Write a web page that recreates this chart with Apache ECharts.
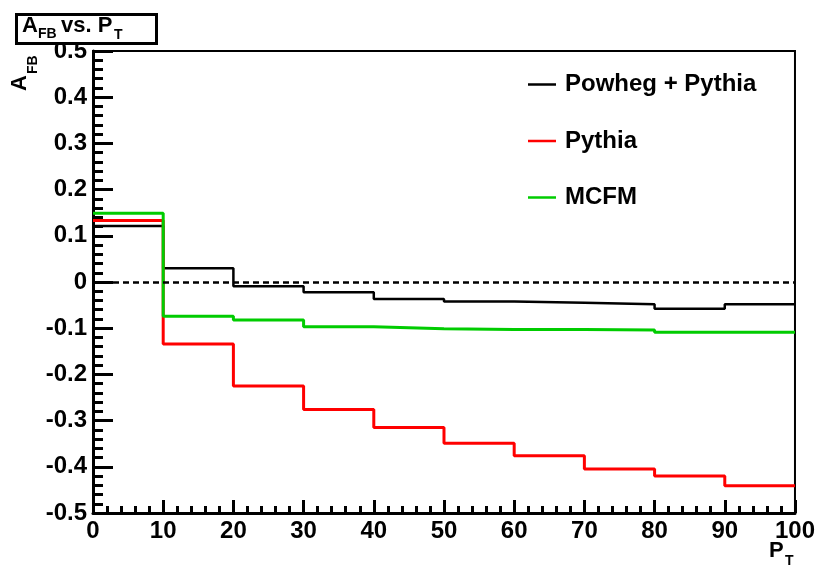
<!DOCTYPE html>
<html>
<head>
<meta charset="utf-8">
<script src="https://cdn.jsdelivr.net/npm/echarts@6/dist/echarts.min.js"></script>
<style>
  html, body { margin: 0; padding: 0; background: #fff; }
  #chart { width: 818px; height: 567px; }
</style>
</head>
<body>
<div id="chart"></div>
<script>
// Forward-backward asymmetry versus transverse momentum, 10-unit bins
const binEdges = [0, 10, 20, 30, 40, 50, 60, 70, 80, 90, 100];
const seriesNames = ['Powheg + Pythia', 'Pythia', 'MCFM'];
const powhegPythia = [0.121, 0.030, -0.009, -0.022, -0.037, -0.042, -0.045, -0.048, -0.058, -0.048];
const pythia = [0.133, -0.134, -0.225, -0.276, -0.315, -0.349, -0.376, -0.405, -0.420, -0.441];
const mcfm = [0.149, -0.074, -0.082, -0.097, -0.101, -0.103, -0.103, -0.104, -0.109, -0.109];
const xTickLabels = ['0', '10', '20', '30', '40', '50', '60', '70', '80', '90', '100'];
const yTickLabels = ['-0.5', '-0.4', '-0.3', '-0.2', '-0.1', '0', '0.1', '0.2', '0.3', '0.4', '0.5'];

const FONT = '"Liberation Sans", Arial, Helvetica, sans-serif';
const xMin = 0, xMax = 100, xStep = 10;
const yMin = -0.5, yMax = 0.5, yStep = 0.1;

// Histogram outline: one point per lower bin edge, plus the closing edge
function histPoints(values) {
  const pts = values.map((v, i) => [binEdges[i], v]);
  pts.push([binEdges[binEdges.length - 1], values[values.length - 1]]);
  return pts;
}

function histSeries(name, values, color, width, extra) {
  return Object.assign({
    name: name,
    type: 'line',
    step: 'end',
    symbol: 'none',
    data: histPoints(values),
    lineStyle: { color: color, width: width },
    itemStyle: { color: color },
    animation: false
  }, extra || {});
}

function label(text, x, y, size, rotation) {
  return {
    type: 'text', z: 11, x: x, y: y, rotation: rotation || 0,
    style: {
      text: text, fontFamily: FONT, fontWeight: 'bold', fontSize: size,
      fill: '#000', align: 'left', verticalAlign: 'middle'
    }
  };
}

const chart = echarts.init(document.getElementById('chart'), null, { renderer: 'canvas' });

chart.setOption({
  backgroundColor: '#fff',
  animation: false,
  textStyle: { fontFamily: FONT },
  grid: {
    left: 93, right: 23, top: 51, bottom: 54,
    show: true, borderColor: '#000', borderWidth: 2, backgroundColor: 'transparent'
  },
  xAxis: {
    type: 'value', min: xMin, max: xMax, interval: xStep,
    axisLine: { show: true, onZero: false, lineStyle: { color: '#000', width: 3 } },
    axisTick: { show: true, inside: true, length: 13, lineStyle: { color: '#000', width: 3 } },
    minorTick: { show: true, splitNumber: 5, length: 7, lineStyle: { color: '#000', width: 3 } },
    splitLine: { show: false },
    axisLabel: {
      margin: 6, color: '#000', fontFamily: FONT, fontWeight: 'bold', fontSize: 24,
      formatter: v => xTickLabels[Math.round((v - xMin) / xStep)]
    }
  },
  yAxis: {
    type: 'value', min: yMin, max: yMax, interval: yStep,
    axisLine: { show: true, onZero: false, lineStyle: { color: '#000', width: 3 } },
    axisTick: { show: true, inside: true, length: 20, lineStyle: { color: '#000', width: 3 } },
    minorTick: { show: true, splitNumber: 5, length: 10, lineStyle: { color: '#000', width: 3 } },
    splitLine: { show: false },
    axisLabel: {
      margin: 6, color: '#000', fontFamily: FONT, fontWeight: 'bold', fontSize: 24,
      formatter: v => yTickLabels[Math.round((v - yMin) / yStep)]
    }
  },
  legend: {
    orient: 'vertical',
    left: 523, top: 67.5,
    icon: 'rect',
    itemWidth: 28, itemHeight: 2.5, itemGap: 32.5,
    data: seriesNames,
    textStyle: {
      color: '#000', fontFamily: FONT, fontWeight: 'bold', fontSize: 24,
      lineHeight: 24, padding: [0, 0, 0, 4]
    }
  },
  graphic: [
    // title box
    {
      type: 'rect', z: 10,
      shape: { x: 16.5, y: 14.5, width: 140, height: 29 },
      style: { fill: '#fff', stroke: '#000', lineWidth: 3 }
    },
    label('A', 22, 26, 22),
    label('FB', 38, 34, 14),
    label(' vs. P', 55, 26, 22),
    label('T', 114, 35, 14),
    // y-axis title (rotated)
    label('A', 19.5, 91, 22, Math.PI / 2),
    label('FB', 33.5, 74, 14, Math.PI / 2),
    // x-axis title
    label('P', 769, 551, 22),
    label('T', 785, 561, 14)
  ],
  series: [
    histSeries(seriesNames[0], powhegPythia, '#000000', 2.5, {
      markLine: {
        silent: true, symbol: 'none', animation: false,
        label: { show: false },
        lineStyle: { color: '#000', width: 2.5, type: [6, 4] },
        data: [{ yAxis: 0 }]
      }
    }),
    histSeries(seriesNames[1], pythia, '#ff0000', 3),
    histSeries(seriesNames[2], mcfm, '#00cc00', 3)
  ]
});
</script>
</body>
</html>
